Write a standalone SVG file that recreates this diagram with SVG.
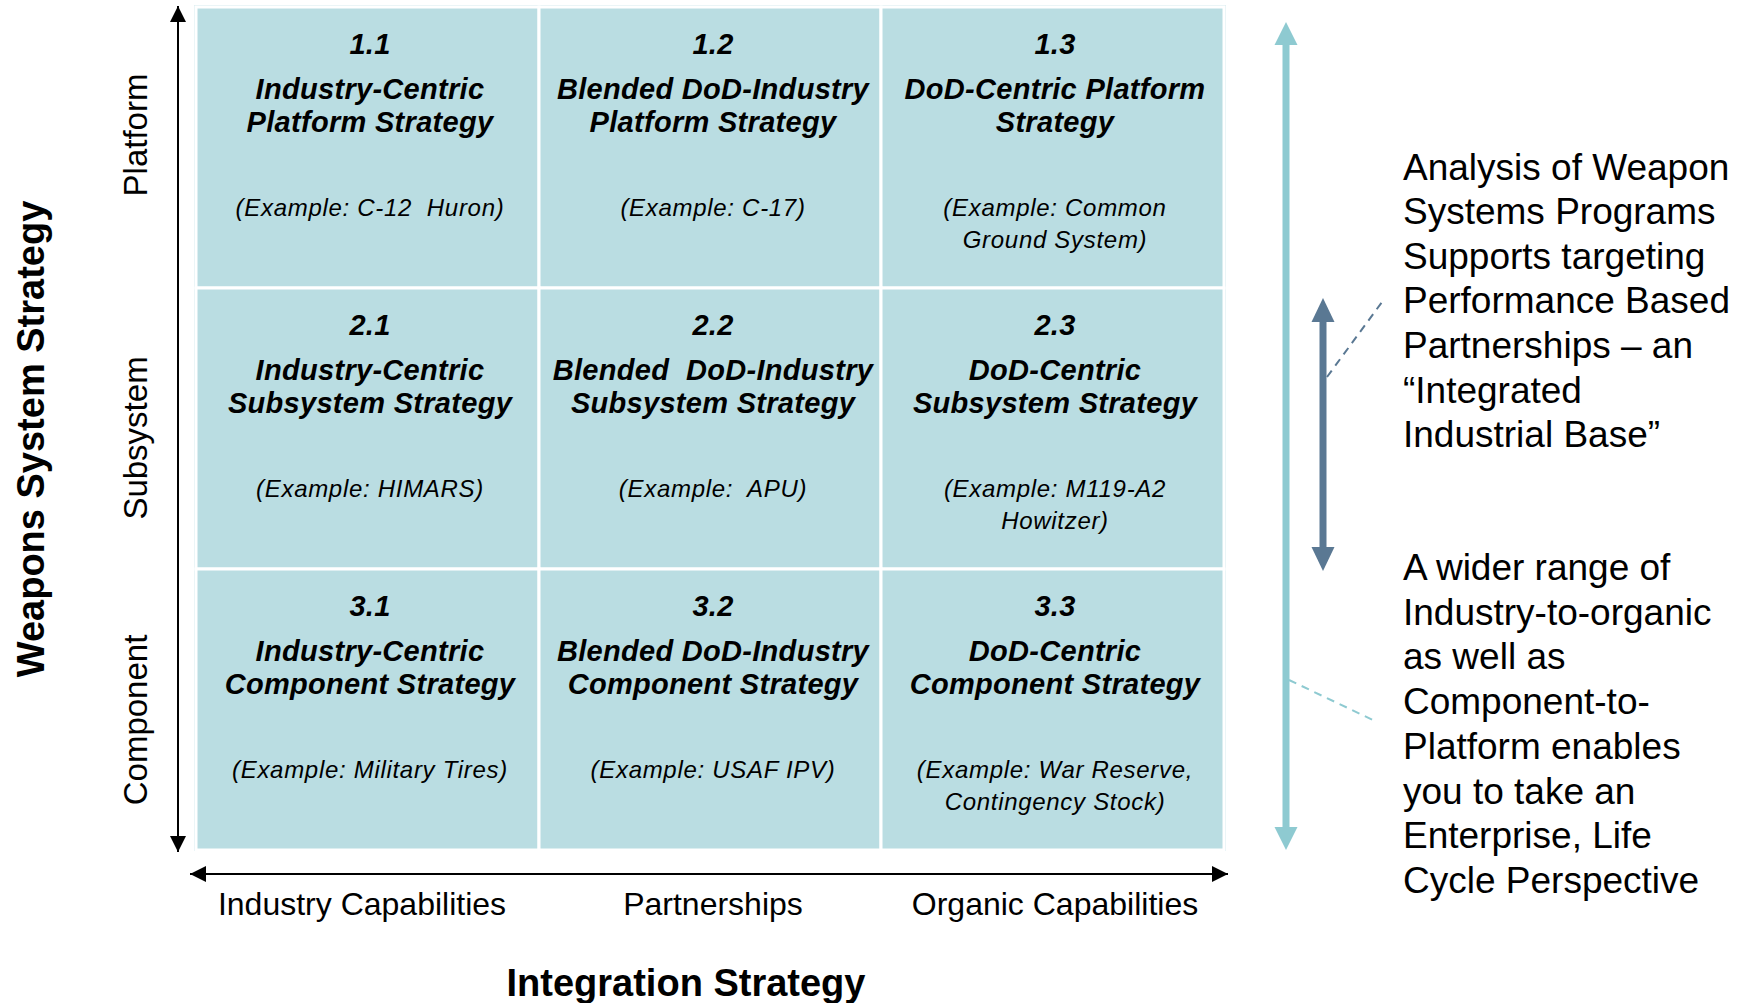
<svg xmlns="http://www.w3.org/2000/svg" width="1748" height="1003" viewBox="0 0 1748 1003">
<style>
.cell{fill:#BADDE2;stroke:#FFFFFF;stroke-width:3}
.num,.ttl{font-family:"Liberation Sans",Arial,sans-serif;font-weight:bold;font-style:italic;font-size:29px;letter-spacing:0.3px;text-anchor:middle;fill:#000}
.ex{font-family:"Liberation Sans",Arial,sans-serif;font-style:italic;font-size:24px;letter-spacing:0.7px;text-anchor:middle;fill:#000}
.axl{font-family:"Liberation Sans",Arial,sans-serif;font-size:32px;text-anchor:middle;fill:#000}
.rowl{font-family:"Liberation Sans",Arial,sans-serif;font-size:33px;text-anchor:middle;fill:#000}
.big{font-family:"Liberation Sans",Arial,sans-serif;font-weight:bold;font-size:38px;text-anchor:middle;fill:#000}
.side{font-family:"Liberation Sans",Arial,sans-serif;font-size:37px;fill:#000}
</style>
<defs>
<marker id="blk" viewBox="0 0 10 10" refX="10" refY="5" markerWidth="16" markerHeight="16" markerUnits="userSpaceOnUse" orient="auto-start-reverse">
<path d="M0,0 L10,5 L0,10 z" fill="#000"/>
</marker>
</defs>
<rect x="195" y="6" width="1030" height="844" fill="none" stroke="#D6EBEE" stroke-width="2"/>
<g id="cell-1-1"><rect class="cell" x="196" y="7" width="343" height="281"/>
<text class="num" x="370" y="54">1.1</text><text class="ttl" x="370" y="99">Industry-Centric</text><text class="ttl" x="370" y="132">Platform Strategy</text><text class="ex" x="370" y="216" xml:space="preserve">(Example: C-12  Huron)</text></g>
<g id="cell-1-2"><rect class="cell" x="539" y="7" width="342" height="281"/>
<text class="num" x="713" y="54">1.2</text><text class="ttl" x="713" y="99">Blended DoD-Industry</text><text class="ttl" x="713" y="132">Platform Strategy</text><text class="ex" x="713" y="216">(Example: C-17)</text></g>
<g id="cell-1-3"><rect class="cell" x="881" y="7" width="343" height="281"/>
<text class="num" x="1055" y="54">1.3</text><text class="ttl" x="1055" y="99">DoD-Centric Platform</text><text class="ttl" x="1055" y="132">Strategy</text><text class="ex" x="1055" y="216">(Example: Common</text><text class="ex" x="1055" y="248">Ground System)</text></g>
<g id="cell-2-1"><rect class="cell" x="196" y="288" width="343" height="281"/>
<text class="num" x="370" y="335">2.1</text><text class="ttl" x="370" y="380">Industry-Centric</text><text class="ttl" x="370" y="413">Subsystem Strategy</text><text class="ex" x="370" y="497">(Example: HIMARS)</text></g>
<g id="cell-2-2"><rect class="cell" x="539" y="288" width="342" height="281"/>
<text class="num" x="713" y="335">2.2</text><text class="ttl" x="713" y="380" xml:space="preserve">Blended  DoD-Industry</text><text class="ttl" x="713" y="413">Subsystem Strategy</text><text class="ex" x="713" y="497" xml:space="preserve">(Example:  APU)</text></g>
<g id="cell-2-3"><rect class="cell" x="881" y="288" width="343" height="281"/>
<text class="num" x="1055" y="335">2.3</text><text class="ttl" x="1055" y="380">DoD-Centric</text><text class="ttl" x="1055" y="413">Subsystem Strategy</text><text class="ex" x="1055" y="497">(Example: M119-A2</text><text class="ex" x="1055" y="529">Howitzer)</text></g>
<g id="cell-3-1"><rect class="cell" x="196" y="569" width="343" height="281"/>
<text class="num" x="370" y="616">3.1</text><text class="ttl" x="370" y="661">Industry-Centric</text><text class="ttl" x="370" y="694">Component Strategy</text><text class="ex" x="370" y="778">(Example: Military Tires)</text></g>
<g id="cell-3-2"><rect class="cell" x="539" y="569" width="342" height="281"/>
<text class="num" x="713" y="616">3.2</text><text class="ttl" x="713" y="661">Blended DoD-Industry</text><text class="ttl" x="713" y="694">Component Strategy</text><text class="ex" x="713" y="778">(Example: USAF IPV)</text></g>
<g id="cell-3-3"><rect class="cell" x="881" y="569" width="343" height="281"/>
<text class="num" x="1055" y="616">3.3</text><text class="ttl" x="1055" y="661">DoD-Centric</text><text class="ttl" x="1055" y="694">Component Strategy</text><text class="ex" x="1055" y="778">(Example: War Reserve,</text><text class="ex" x="1055" y="810">Contingency Stock)</text></g>
<g id="connectors">
<line x1="178" y1="6" x2="178" y2="852" stroke="#000" stroke-width="2" marker-start="url(#blk)" marker-end="url(#blk)"/>
<line x1="190" y1="874" x2="1228" y2="874" stroke="#000" stroke-width="2" marker-start="url(#blk)" marker-end="url(#blk)"/>
<rect x="1282.5" y="44" width="7" height="786" fill="#8ECAD1"/>
<path d="M1286,22 L1297.5,45 L1274.5,45 z" fill="#8ECAD1"/>
<path d="M1286,850 L1297.5,827 L1274.5,827 z" fill="#8ECAD1"/>
<rect x="1319.5" y="320" width="7" height="230" fill="#5A7893"/>
<path d="M1323,298 L1334.5,322 L1311.5,322 z" fill="#5A7893"/>
<path d="M1323,571 L1334.5,547 L1311.5,547 z" fill="#5A7893"/>
<line x1="1327" y1="377" x2="1382" y2="302" stroke="#5A7893" stroke-width="2" stroke-dasharray="8,6"/>
<line x1="1289" y1="680" x2="1373" y2="720" stroke="#8ECAD1" stroke-width="2" stroke-dasharray="8,6"/>
</g>
<g id="labels">
<text class="big" transform="translate(44,439) rotate(-90)">Weapons System Strategy</text>
<text class="rowl" transform="translate(147,135) rotate(-90)">Platform</text>
<text class="rowl" transform="translate(147,438) rotate(-90)">Subsystem</text>
<text class="rowl" transform="translate(147,720) rotate(-90)">Component</text>
<text class="axl" x="362" y="915">Industry Capabilities</text>
<text class="axl" x="713" y="915">Partnerships</text>
<text class="axl" x="1055" y="915">Organic Capabilities</text>
<text class="big" x="686" y="996">Integration Strategy</text>
</g>
<g id="note-1">
<text class="side" x="1403" y="180">Analysis of Weapon</text>
<text class="side" x="1403" y="224">Systems Programs</text>
<text class="side" x="1403" y="269">Supports targeting</text>
<text class="side" x="1403" y="313">Performance Based</text>
<text class="side" x="1403" y="358">Partnerships – an</text>
<text class="side" x="1403" y="403">“Integrated</text>
<text class="side" x="1403" y="447">Industrial Base”</text>
</g>
<g id="note-2">
<text class="side" x="1403" y="580">A wider range of</text>
<text class="side" x="1403" y="625">Industry-to-organic</text>
<text class="side" x="1403" y="669">as well as</text>
<text class="side" x="1403" y="714">Component-to-</text>
<text class="side" x="1403" y="759">Platform enables</text>
<text class="side" x="1403" y="804">you to take an</text>
<text class="side" x="1403" y="848">Enterprise, Life</text>
<text class="side" x="1403" y="893">Cycle Perspective</text>
</g>
</svg>
